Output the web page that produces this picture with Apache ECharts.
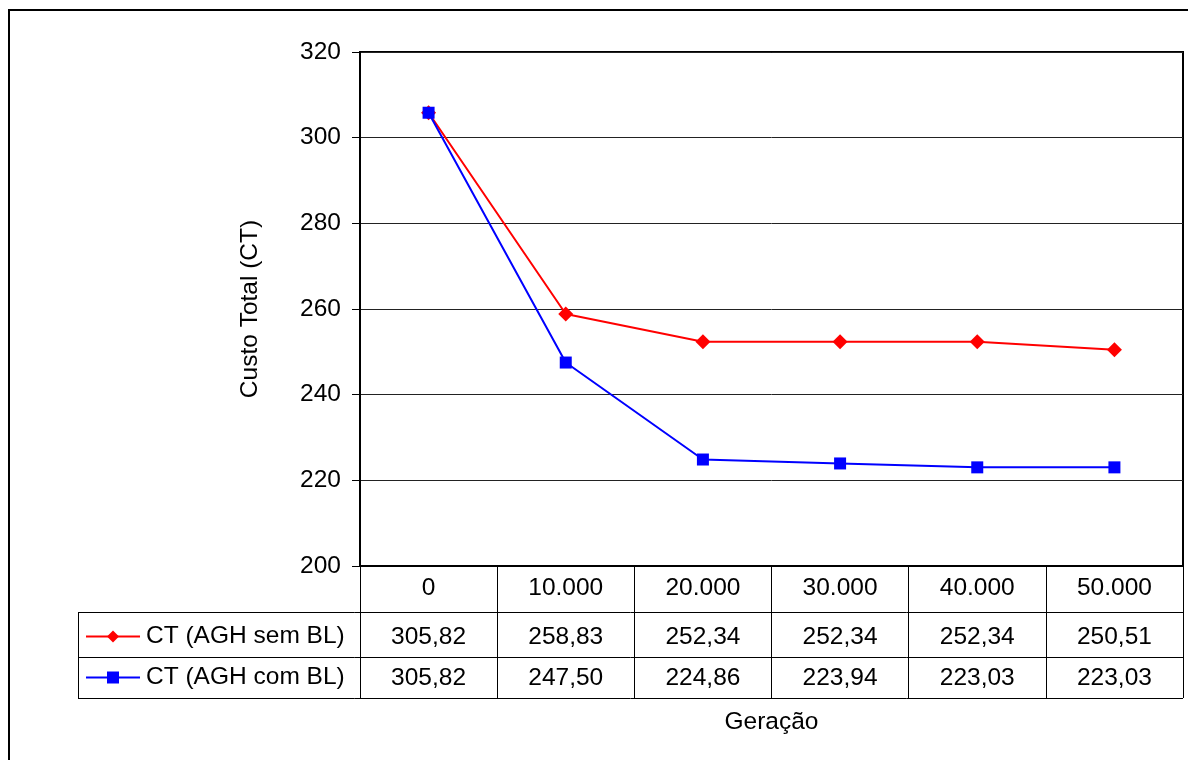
<!DOCTYPE html>
<html>
<head>
<meta charset="utf-8">
<script src="https://cdn.jsdelivr.net/npm/echarts@6/dist/echarts.min.js"></script>
<style>html,body{margin:0;padding:0;background:#fff}#c{width:1188px;height:760px}</style>
</head>
<body>
<div id="c"></div>
<script>
var categories = ['0', '10.000', '20.000', '30.000', '40.000', '50.000'];
var semBL = [305.82, 258.83, 252.34, 252.34, 252.34, 250.51];
var comBL = [305.82, 247.50, 224.86, 223.94, 223.03, 223.03];
var seriesNames = ['CT (AGH sem BL)', 'CT (AGH com BL)'];
var yTicks = { min: 200, max: 320, interval: 20 };

var FONT = 'Liberation Sans, Arial, sans-serif';
var FS = 24.5;
var fmt = function (v) { return v.toFixed(2).replace('.', ','); };

var G = { left: 360, right: 1183, top: 52, bottom: 566 };
var tableRows = [612, 657, 698];
var tableLeft = 78;

var chart = echarts.init(document.getElementById('c'), null, { renderer: 'canvas' });

var graphics = [
  { type: 'rect', shape: { x: 9, y: 10, width: 1220, height: 800 }, style: { fill: 'none', stroke: '#000', lineWidth: 2 }, silent: true }
];
tableRows.forEach(function (y) {
  graphics.push({ type: 'line', shape: { x1: tableLeft, y1: y + 0.5, x2: G.right, y2: y + 0.5 }, style: { stroke: '#000', lineWidth: 1 }, silent: true });
});
graphics.push({ type: 'line', shape: { x1: tableLeft + 0.5, y1: tableRows[0], x2: tableLeft + 0.5, y2: tableRows[2] + 1 }, style: { stroke: '#000', lineWidth: 1 }, silent: true });

var option = {
  backgroundColor: '#fff',
  animation: false,
  textStyle: { fontFamily: FONT },
  grid: {
    left: G.left, right: 1188 - G.right, top: G.top, bottom: 760 - G.bottom,
    show: true, borderColor: '#000', borderWidth: 2, backgroundColor: 'transparent'
  },
  legend: {
    orient: 'vertical',
    left: 85, top: 624,
    padding: 0,
    itemWidth: 54, itemHeight: 15, itemGap: 16,
    textStyle: { fontFamily: FONT, fontSize: FS, color: '#000', padding: [0, 0, 0, 1] },
    data: seriesNames
  },
  xAxis: {
    type: 'category',
    data: categories,
    boundaryGap: true,
    axisLine: { lineStyle: { color: '#000', width: 1 } },
    axisTick: { show: true, interval: 0, length: 132, lineStyle: { color: '#000', width: 1 } },
    axisLabel: {
      interval: 0, margin: 0,
      formatter: function (val, idx) {
        return '{h|' + val + '}\n{a|' + fmt(semBL[idx]) + '}\n{b|' + fmt(comBL[idx]) + '}';
      },
      rich: {
        h: { fontSize: FS, lineHeight: 44, color: '#000', fontFamily: FONT },
        a: { fontSize: FS, lineHeight: 54, color: '#000', fontFamily: FONT },
        b: { fontSize: FS, lineHeight: 28, color: '#000', fontFamily: FONT }
      }
    },
    name: 'Geração',
    nameLocation: 'middle',
    nameGap: 144,
    nameTextStyle: { fontSize: FS, color: '#000', fontFamily: FONT }
  },
  yAxis: {
    type: 'value',
    min: yTicks.min, max: yTicks.max, interval: yTicks.interval,
    axisLine: { show: true, lineStyle: { color: '#000', width: 2 } },
    axisTick: { show: true, length: 8, lineStyle: { color: '#000', width: 1 } },
    axisLabel: { fontSize: FS, color: '#000', margin: 19, fontFamily: FONT },
    splitLine: { show: true, lineStyle: { color: '#222', width: 1 } },
    name: 'Custo Total (CT)',
    nameLocation: 'middle',
    nameRotate: 90,
    nameGap: 97,
    nameTextStyle: { fontSize: FS, color: '#000', fontFamily: FONT }
  },
  series: [
    {
      name: seriesNames[0], type: 'line', data: semBL,
      symbol: 'diamond', symbolSize: 15,
      itemStyle: { color: '#ff0000' },
      lineStyle: { color: '#ff0000', width: 2 }
    },
    {
      name: seriesNames[1], type: 'line', data: comBL,
      symbol: 'rect', symbolSize: 12,
      itemStyle: { color: '#0000ff' },
      lineStyle: { color: '#0000ff', width: 2 }
    }
  ],
  graphic: graphics
};
chart.setOption(option);
</script>
</body>
</html>
